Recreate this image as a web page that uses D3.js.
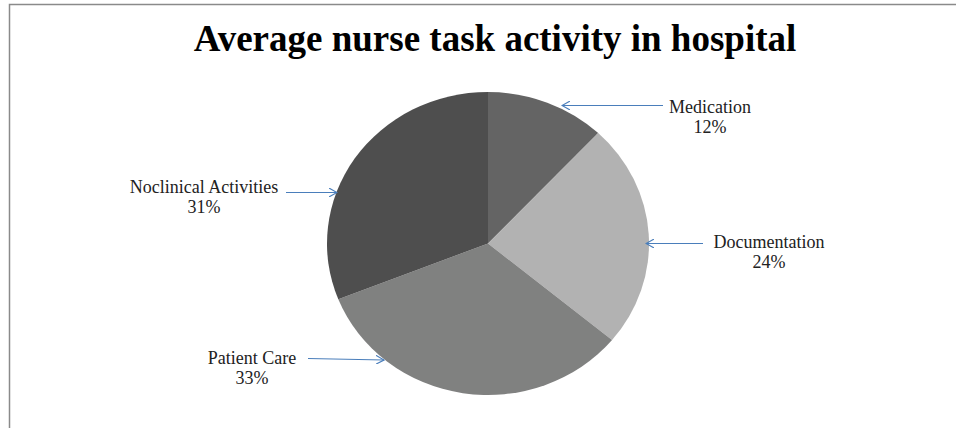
<!DOCTYPE html>
<meta charset="utf-8">
<title>Average nurse task activity in hospital</title>
<style>
    body { margin: 0; background: #fff; }
    svg { display: block; }
</style>
<body>
<div id="chart"></div>
<script src="https://d3js.org/d3.v7.min.js"></script>
<script>
// data
var categories = ["Medication", "Documentation", "Patient Care", "Noclinical Activities"];
var values = [12, 24, 33, 31];
var colors = ["#646464", "#b2b2b2", "#808180", "#4e4e4e"];

var width = 956, height = 428;
var cx = 488, cy = 243.5, ry = 151.5, rx = 161;

var svg = d3.select("#chart").append("svg")
    .attr("width", width)
    .attr("height", height);

// frame (top and left edge only)
svg.append("path")
    .attr("d", "M9.5," + height + "V4.5H" + width)
    .attr("fill", "none")
    .attr("stroke", "#8a8a8a")
    .attr("stroke-width", 1.5);

// title
svg.append("text")
    .attr("x", 495)
    .attr("y", 51)
    .attr("text-anchor", "middle")
    .attr("font-family", "Liberation Serif, Times New Roman, serif")
    .attr("font-weight", "bold")
    .attr("font-size", "37px")
    .text("Average nurse task activity in hospital");

// pie, slightly stretched horizontally like the original
var pie = d3.pie().sort(null).value(function (d) { return d; });
var arc = d3.arc().innerRadius(0).outerRadius(ry);
var arcs = pie(values);

svg.append("g")
    .attr("transform", "translate(" + cx + "," + cy + ") scale(" + (rx / ry) + ",1)")
    .selectAll("path")
    .data(arcs)
    .enter().append("path")
    .attr("d", arc)
    .attr("fill", function (d, i) { return colors[i]; });

// labels with arrows pointing at each slice
var labelPos = [
    { x: 710, y: 113, ax1: 663, ay1: 105.5, ax2: 562, ay2: 105.5 },
    { x: 769, y: 248, ax1: 703, ay1: 243.5, ax2: 646, ay2: 243.5 },
    { x: 252, y: 364, ax1: 308, ay1: 358.5, ax2: 384, ay2: 360 },
    { x: 204, y: 193, ax1: 286, ay1: 192.5, ax2: 337, ay2: 192.5 }
];

var defs = svg.append("defs");
defs.append("marker")
    .attr("id", "arrow")
    .attr("viewBox", "0 0 10 10")
    .attr("refX", 9)
    .attr("refY", 5)
    .attr("markerWidth", 9)
    .attr("markerHeight", 9)
    .attr("markerUnits", "userSpaceOnUse")
    .attr("orient", "auto")
    .append("path")
    .attr("d", "M0,0L9,5L0,10")
    .attr("fill", "none")
    .attr("stroke", "#4a7ebb")
    .attr("stroke-width", 1.3);

var lab = svg.append("g").selectAll("g")
    .data(categories)
    .enter().append("g");

lab.append("line")
    .attr("x1", function (d, i) { return labelPos[i].ax1; })
    .attr("y1", function (d, i) { return labelPos[i].ay1; })
    .attr("x2", function (d, i) { return labelPos[i].ax2; })
    .attr("y2", function (d, i) { return labelPos[i].ay2; })
    .attr("stroke", "#4a7ebb")
    .attr("stroke-width", 1.2)
    .attr("marker-end", "url(#arrow)");

var txt = lab.append("text")
    .attr("text-anchor", "middle")
    .attr("font-family", "Liberation Serif, Times New Roman, serif")
    .attr("font-size", "18px")
    .attr("fill", "#222");

txt.append("tspan")
    .attr("x", function (d, i) { return labelPos[i].x; })
    .attr("y", function (d, i) { return labelPos[i].y; })
    .text(function (d) { return d; });

txt.append("tspan")
    .attr("x", function (d, i) { return labelPos[i].x; })
    .attr("dy", 19.5)
    .text(function (d, i) { return values[i] + "%"; });
</script>
</body>
